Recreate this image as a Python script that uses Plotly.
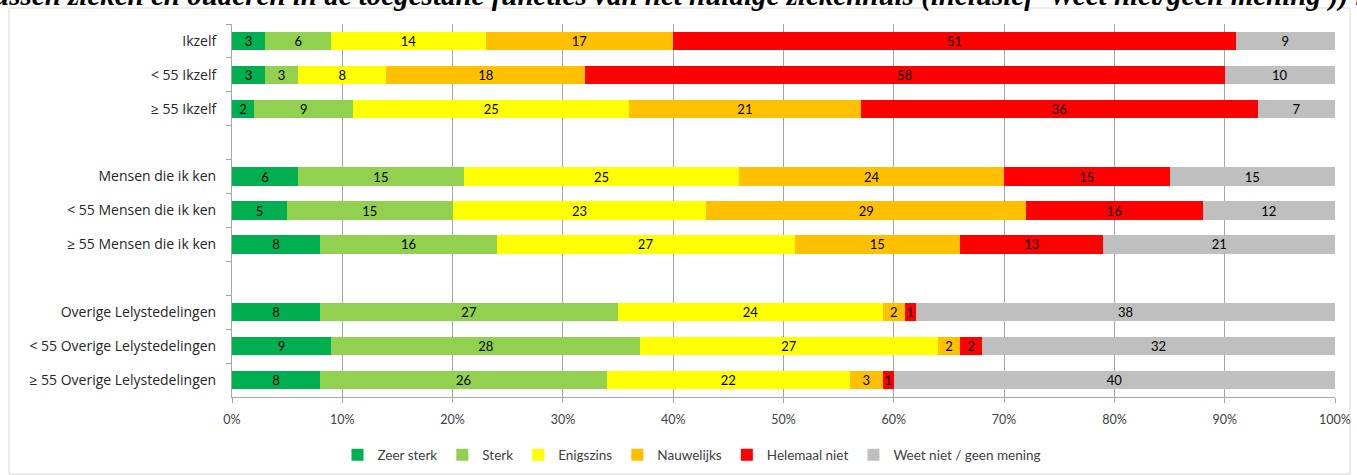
import plotly.graph_objects as go

categories = [
    "Ikzelf", "< 55 Ikzelf", "≥ 55 Ikzelf", " ",
    "Mensen die ik ken", "< 55 Mensen die ik ken", "≥ 55 Mensen die ik ken", "  ",
    "Overige Lelystedelingen", "< 55 Overige Lelystedelingen", "≥ 55 Overige Lelystedelingen",
]
series_names = ["Zeer sterk", "Sterk", "Enigszins", "Nauwelijks", "Helemaal niet", "Weet niet / geen mening"]
zeer_sterk = [3, 3, 2, None, 6, 5, 8, None, 8, 9, 8]
sterk = [6, 3, 9, None, 15, 15, 16, None, 27, 28, 26]
enigszins = [14, 8, 25, None, 25, 23, 27, None, 24, 27, 22]
nauwelijks = [17, 18, 21, None, 24, 29, 15, None, 2, 2, 3]
helemaal_niet = [51, 58, 36, None, 15, 16, 13, None, 1, 2, 1]
weet_niet = [9, 10, 7, None, 15, 12, 21, None, 38, 32, 40]
x_ticks = [0, 10, 20, 30, 40, 50, 60, 70, 80, 90, 100]
x_tick_labels = ["0%", "10%", "20%", "30%", "40%", "50%", "60%", "70%", "80%", "90%", "100%"]
colors = ["#00B050", "#92D050", "#FFFF00", "#FFC000", "#FF0000", "#BFBFBF"]
title_text = ("tussen zieken en ouderen in de toegestane functies van het huidige ziekenhuis "
              "(inclusief 'Weet niet/geen mening')) n")

fig = go.Figure()
for name, vals, col in zip(series_names,
                           [zeer_sterk, sterk, enigszins, nauwelijks, helemaal_niet, weet_niet],
                           colors):
    fig.add_trace(go.Bar(
        name=name, y=categories, x=vals, orientation="h",
        marker=dict(color=col, line=dict(width=0)),
        text=[("" if v is None else str(v)) for v in vals],
        textposition="inside", insidetextanchor="middle", textangle=0,
        textfont=dict(family="Lato", size=13, color="#000000"),
        constraintext="none",
        hoverinfo="skip",
    ))

W, H = 1357, 475
ml, mr, mt, mb = 232, 22, 24, 78
pw, ph = W - ml - mr, H - mt - mb

def px_x(p):
    return (p - ml) / pw

def px_y(p):
    return (H - mb - p) / ph

fig.update_layout(
    width=W, height=H,
    barmode="stack", bargap=0.46,
    margin=dict(l=ml, r=mr, t=mt, b=mb, autoexpand=False),
    paper_bgcolor="white", plot_bgcolor="white",
    font=dict(family="Lato", size=13, color="#404040"),
    showlegend=True,
    legend=dict(orientation="h", x=px_x(692), xanchor="center", y=px_y(455), yanchor="middle",
                font=dict(family="Lato", size=13.5, color="#404040"),
                itemwidth=30, traceorder="normal", tracegroupgap=0),
    xaxis=dict(range=[0, 100], tickvals=x_ticks, ticktext=x_tick_labels,
               showgrid=True, gridcolor="#A6A6A6", gridwidth=1,
               ticks="outside", ticklen=5, tickcolor="#A6A6A6", ticklabelstandoff=6,
               showline=True, linecolor="#A6A6A6", zeroline=False, automargin=False,
               tickfont=dict(family="Lato", size=12.5, color="#404040"), fixedrange=True),
    yaxis=dict(categoryorder="array", categoryarray=categories, autorange="reversed",
               type="category", tickson="boundaries", ticks="outside", ticklen=5,
               tickcolor="#A6A6A6", showline=True, linecolor="#A6A6A6", showgrid=False,
               automargin=False, ticklabelstandoff=12,
               tickfont=dict(family="Open Sans", size=14, color="#262626"), fixedrange=True),
    shapes=[dict(type="rect", xref="paper", yref="paper",
                 x0=px_x(9), x1=px_x(1350), y0=px_y(474), y1=px_y(8),
                 line=dict(color="#D9D9D9", width=1), fillcolor="rgba(0,0,0,0)", layer="below")],
    annotations=[dict(text="<b><i>" + title_text + "</i></b>", xref="paper", yref="paper",
                      x=px_x(678), xanchor="center", y=px_y(14), yanchor="bottom",
                      showarrow=False,
                      font=dict(family="Liberation Serif", size=29, color="#000000"))],
)

fig.write_html("out.html", config={"displayModeBar": False},
               post_script="document.body.style.margin='0';")
